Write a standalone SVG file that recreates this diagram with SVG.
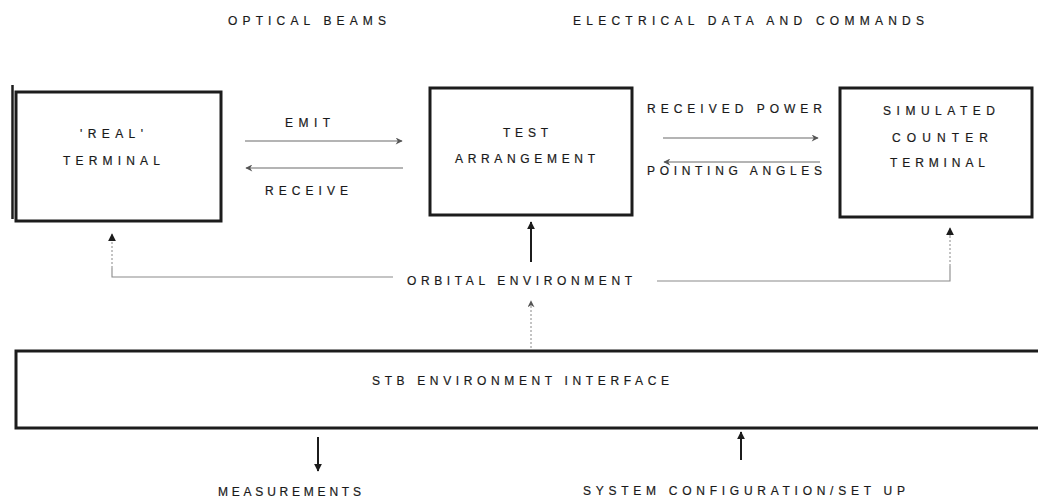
<svg xmlns="http://www.w3.org/2000/svg" width="1038" height="504" viewBox="0 0 1038 504">
<defs>
<style>
.box{fill:#fff;stroke:#1c1c1c;stroke-width:3}
.t{font-family:"Liberation Sans",Arial,sans-serif;font-size:12px;fill:#1a1a1a;stroke:#1a1a1a;stroke-width:0.2}
.ln{stroke:#6a6a6a;stroke-width:1.2;fill:none}
.lt{stroke:#8a8a8a;stroke-width:1.1;fill:none}
.dot{stroke:#888;stroke-width:1;stroke-dasharray:2 2;fill:none}
.sol{stroke:#1c1c1c;stroke-width:2;fill:none}
</style>
<marker id="hd" viewBox="0 0 10 10" refX="9" refY="5" markerWidth="8" markerHeight="8" markerUnits="userSpaceOnUse" orient="auto">
<path d="M0,0 L10,5 L0,10 Z" fill="#1c1c1c"/>
</marker>
<marker id="hg" viewBox="0 0 10 10" refX="9" refY="5" markerWidth="9" markerHeight="7" markerUnits="userSpaceOnUse" orient="auto">
<path d="M0,0 L10,5 L0,10 L3,5 Z" fill="#555"/>
</marker>
</defs>
<rect width="1038" height="504" fill="#fff"/>

<g id="header">
<text class="t" x="228" y="25" textLength="158" lengthAdjust="spacing">OPTICAL BEAMS</text>
<text class="t" x="573" y="25" textLength="351" lengthAdjust="spacing">ELECTRICAL DATA AND COMMANDS</text>
</g>

<g id="real-terminal">
<rect class="box" x="16" y="92" width="205" height="129"/>
<line x1="12.5" y1="85" x2="12.5" y2="219" stroke="#1c1c1c" stroke-width="2.5"/>
<text class="t" x="80" y="138" textLength="63" lengthAdjust="spacing">'REAL'</text>
<text class="t" x="63" y="165" textLength="97" lengthAdjust="spacing">TERMINAL</text>
</g>

<g id="test-arrangement">
<rect class="box" x="430" y="88" width="202" height="127"/>
<text class="t" x="503" y="137" textLength="45" lengthAdjust="spacing">TEST</text>
<text class="t" x="455" y="163" textLength="140" lengthAdjust="spacing">ARRANGEMENT</text>
</g>

<g id="simulated-counter-terminal">
<rect class="box" x="840" y="88" width="192" height="129"/>
<text class="t" x="883" y="115" textLength="112" lengthAdjust="spacing">SIMULATED</text>
<text class="t" x="892" y="142" textLength="96" lengthAdjust="spacing">COUNTER</text>
<text class="t" x="890" y="167" textLength="95" lengthAdjust="spacing">TERMINAL</text>
</g>

<g id="stb-environment-interface">
<rect class="box" x="16" y="351" width="1030" height="77"/>
<text class="t" x="372" y="385" textLength="297" lengthAdjust="spacing">STB ENVIRONMENT INTERFACE</text>
</g>

<g id="labels">
<text class="t" x="285" y="127" textLength="45" lengthAdjust="spacing">EMIT</text>
<text class="t" x="265" y="195" textLength="83" lengthAdjust="spacing">RECEIVE</text>
<text class="t" x="647" y="113" textLength="175" lengthAdjust="spacing">RECEIVED POWER</text>
<text class="t" x="647" y="175" textLength="175" lengthAdjust="spacing">POINTING ANGLES</text>
<text class="t" x="407" y="285" textLength="225" lengthAdjust="spacing">ORBITAL ENVIRONMENT</text>
<text class="t" x="218" y="496" textLength="143" lengthAdjust="spacing">MEASUREMENTS</text>
<text class="t" x="583" y="495" textLength="322" lengthAdjust="spacing">SYSTEM CONFIGURATION/SET UP</text>
</g>

<g id="connectors">
<line class="ln" x1="245" y1="141" x2="402" y2="141" marker-end="url(#hg)"/>
<line class="ln" x1="403" y1="168" x2="246" y2="168" marker-end="url(#hg)"/>
<line class="ln" x1="663" y1="138" x2="818" y2="138" marker-end="url(#hg)"/>
<line class="ln" x1="820" y1="162" x2="664" y2="162" marker-end="url(#hg)"/>

<polyline class="lt" points="393,277 112,277 112,268"/>
<line class="dot" x1="112" y1="268" x2="112" y2="236"/>
<line class="lt" x1="112" y1="236" x2="112" y2="234" marker-end="url(#hd)"/>

<polyline class="lt" points="657,281 950,281 950,266"/>
<line class="dot" x1="950" y1="266" x2="950" y2="236"/>
<line class="lt" x1="950" y1="236" x2="950" y2="228" marker-end="url(#hd)"/>

<line class="sol" x1="531" y1="262" x2="531" y2="222" marker-end="url(#hd)"/>
<line class="dot" x1="531" y1="348" x2="531" y2="301" marker-end="url(#hg)"/>

<line class="sol" x1="318" y1="437" x2="318" y2="471" marker-end="url(#hd)"/>
<line class="sol" x1="741" y1="460" x2="741" y2="432" marker-end="url(#hd)"/>
</g>
</svg>
